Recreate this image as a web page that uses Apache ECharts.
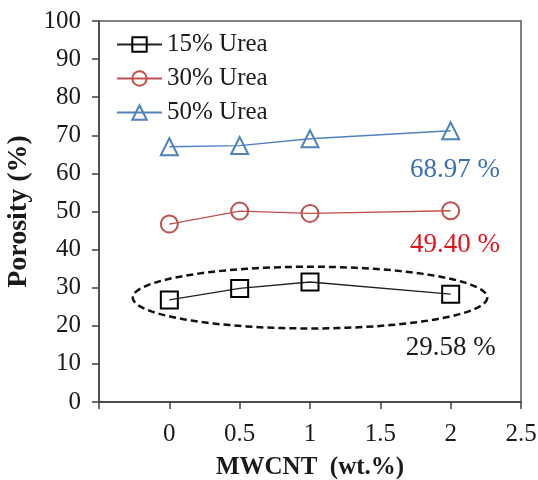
<!DOCTYPE html>
<html><head><meta charset="utf-8">
<script src="https://cdn.jsdelivr.net/npm/echarts@6/dist/echarts.min.js"></script>
<style>html,body{margin:0;padding:0;background:#fff}#c{width:538px;height:480px}</style>
</head><body><div id="c"></div>
<script>
const xValues = [0, 0.5, 1, 2];
const urea15 = [26.8, 29.8, 31.5, 28.3];
const urea30 = [46.7, 50.1, 49.5, 50.2];
const urea50 = [67.0, 67.3, 69.1, 71.2];
const seriesNames = ['15% Urea', '30% Urea', '50% Urea'];
const annotations = [
  {x: 2.03, y: 60.8, text: '68.97 %', color: '#3a70b2'},
  {x: 2.03, y: 41.3, text: '49.40 %', color: '#e3131b'},
  {x: 2.0, y: 14.3, text: '29.58 %', color: '#1a1a1a'}
];
const ellipse = [1.0, 27.4, 1.26, 8.1]; // cx, cy, rx, ry in data units

const F = 'Liberation Serif, Times New Roman, serif';
const chart = echarts.init(document.getElementById('c'));
function pairs(v){ return xValues.map((x,i)=>[x, v[i]]); }
function lineSeries(name, data, color, lineColor, symbol, size){
  return {
    name, type: 'line', data: pairs(data), symbol, symbolSize: size,
    lineStyle: {color: lineColor, width: 1.3},
    itemStyle: {color: 'none', borderColor: color, borderWidth: 2},
    z: 3
  };
}
chart.setOption({
  animation: false,
  grid: {left: 99, right: 17, top: 21, bottom: 78, show: true, borderColor: '#595959', borderWidth: 1.5,
    containLabel: false, outerBoundsMode: 'none'},
  legend: {
    orient: 'vertical', left: 111, top: 27, itemWidth: 45, itemHeight: 18, itemGap: 9,
    textStyle: {fontFamily: F, fontSize: 25, color: '#1a1a1a'},
    data: seriesNames
  },
  xAxis: {
    type: 'value', min: -0.5, max: 2.5, interval: 0.5,
    name: 'MWCNT  (wt.%)', nameLocation: 'middle', nameGap: 53,
    nameTextStyle: {fontFamily: F, fontSize: 25, fontWeight: 'bold', color: '#1a1a1a'},
    axisLine: {lineStyle: {color: '#404040', width: 1.5}},
    axisTick: {show: true, length: 7, lineStyle: {color: '#404040', width: 1.5}},
    axisLabel: {fontFamily: F, fontSize: 25, color: '#1a1a1a', margin: 20,
      formatter: v => v < 0 ? '' : String(v)},
    splitLine: {show: false}
  },
  yAxis: {
    type: 'value', min: 0, max: 100, interval: 10,
    name: 'Porosity (%)', nameLocation: 'middle', nameGap: 63,
    nameTextStyle: {fontFamily: F, fontSize: 28, fontWeight: 'bold', color: '#1a1a1a'},
    axisLine: {show: true, onZero: false, lineStyle: {color: '#404040', width: 1.5}},
    axisTick: {show: true, length: 7, lineStyle: {color: '#404040', width: 1.5}},
    axisLabel: {fontFamily: F, fontSize: 25, color: '#1a1a1a', margin: 18},
    splitLine: {show: false}
  },
  series: [
    lineSeries(seriesNames[0], urea15, '#000000', '#222222', 'rect', 17),
    lineSeries(seriesNames[1], urea30, '#c0504d', '#c0504d', 'circle', 17),
    lineSeries(seriesNames[2], urea50, '#4f81bd', '#4f81bd', 'triangle', 17),
    {
      type: 'custom', silent: true, z: 2,
      data: [ellipse],
      renderItem: function(params, api){
        const c = api.coord([api.value(0), api.value(1)]);
        const s = api.size([api.value(2), api.value(3)]);
        const pts = [];
        for (let k = 0; k < 120; k++) {
          const a = k / 120 * Math.PI * 2;
          pts.push([c[0] + s[0] * Math.cos(a), c[1] + s[1] * Math.sin(a)]);
        }
        return {type: 'polygon', shape: {points: pts},
          style: {fill: 'none', stroke: '#111', lineWidth: 2.5, lineDash: [7, 4]}};
      }
    },
    {
      type: 'scatter', symbolSize: 0, silent: true, itemStyle: {opacity: 1},
      data: annotations.map(a => ({value: [a.x, a.y],
        label: {show: true, position: 'inside', formatter: a.text,
          fontFamily: F, fontSize: 27, color: a.color}}))
    }
  ]
});
</script></body></html>
